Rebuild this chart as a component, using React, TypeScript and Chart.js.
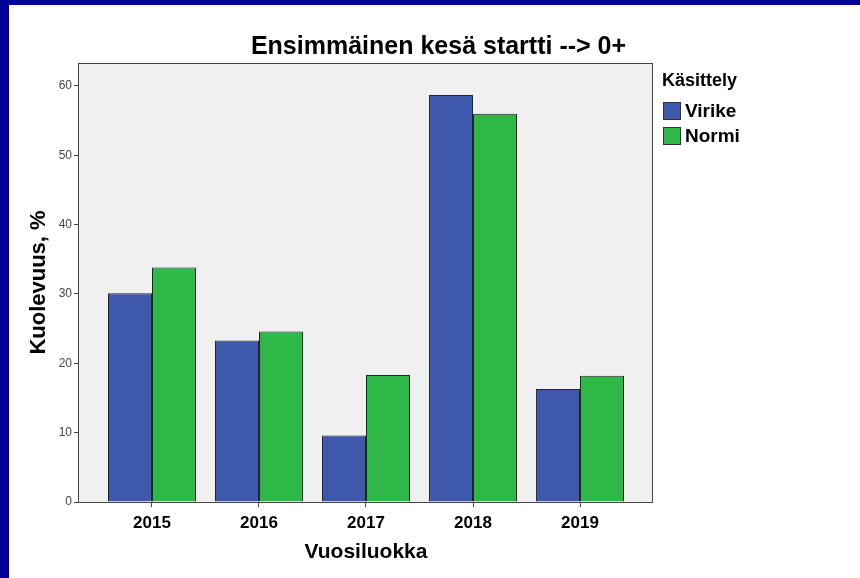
import React, { useEffect, useRef } from "react";
import { Chart, registerables } from "chart.js";

Chart.register(...registerables);

const categories = ["2015", "2016", "2017", "2018", "2019"];
const virike = [30.1, 23.3, 9.6, 58.7, 16.3];
const normi = [33.8, 24.6, 18.3, 56.0, 18.2];
const yTicks = [0, 10, 20, 30, 40, 50, 60];
const seriesNames = ["Virike", "Normi"];
const seriesColors = ["#3e58ac", "#2eb848"];
const legendTitle = "Käsittely";
const chartTitle = "Ensimmäinen kesä startti --> 0+";
const xTitle = "Vuosiluokka";
const yTitle = "Kuolevuus, %";

const FONT = "'Liberation Sans', Arial, sans-serif";

const framePlugin = {
  id: "frame",
  beforeDraw(chart: any) {
    const { ctx, chartArea } = chart;
    const { left, top, right, bottom } = chartArea;
    ctx.save();
    ctx.fillStyle = "#f0f0f0";
    ctx.fillRect(left, top, right - left, bottom - top);
    ctx.restore();
  },
  afterDatasetsDraw(chart: any) {
    const { ctx, chartArea } = chart;
    const { left, top, right, bottom } = chartArea;
    ctx.save();
    ctx.strokeStyle = "#444444";
    ctx.lineWidth = 1;
    ctx.strokeRect(Math.round(left) - 0.5, Math.round(top) + 0.5, Math.round(right - left), Math.round(bottom - top));
    ctx.restore();
  },
};

const titlePlugin = {
  id: "centeredTitle",
  afterDraw(chart: any) {
    const { ctx, width } = chart;
    ctx.save();
    ctx.fillStyle = "#000";
    ctx.textAlign = "center";
    ctx.textBaseline = "middle";
    ctx.font = `bold 25px ${FONT}`;
    ctx.fillText(chartTitle, width / 2 + 4, 42);
    ctx.restore();
  },
};

const legendPlugin = {
  id: "customLegend",
  afterDraw(chart: any) {
    const { ctx, chartArea } = chart;
    const x0 = chartArea.right + 9;
    ctx.save();
    ctx.fillStyle = "#000";
    ctx.textAlign = "left";
    ctx.textBaseline = "middle";
    ctx.font = `bold 18px ${FONT}`;
    ctx.fillText(legendTitle, x0, chartArea.top + 18);
    chart.data.datasets.forEach((ds: any, i: number) => {
      const cy = chartArea.top + 48 + i * 25;
      ctx.fillStyle = ds.backgroundColor;
      ctx.fillRect(x0 + 1, cy - 9, 18, 18);
      ctx.strokeStyle = "#333";
      ctx.lineWidth = 1;
      ctx.strokeRect(x0 + 1.5, cy - 8.5, 17, 17);
      ctx.fillStyle = "#000";
      ctx.font = `bold 19px ${FONT}`;
      ctx.fillText(ds.label, x0 + 23, cy + 1);
    });
    ctx.restore();
  },
};

export default function App() {
  const ref = useRef<HTMLCanvasElement | null>(null);

  useEffect(() => {
    if (!ref.current) return;
    const chart = new Chart(ref.current, {
      type: "bar",
      data: {
        datasets: [
          {
            label: seriesNames[0],
            data: virike.map((v, i) => ({ x: i, y: v })),
            backgroundColor: seriesColors[0],
            borderColor: "#222",
            borderWidth: 1,
            categoryPercentage: 0.822,
            barPercentage: 1,
          },
          {
            label: seriesNames[1],
            data: normi.map((v, i) => ({ x: i, y: v })),
            backgroundColor: seriesColors[1],
            borderColor: "#222",
            borderWidth: 1,
            categoryPercentage: 0.822,
            barPercentage: 1,
          },
        ],
      },
      options: {
        animation: false,
        responsive: false,
        devicePixelRatio: 1,
        layout: { padding: { left: 0, right: 207, top: 58, bottom: 0 } },
        plugins: {
          legend: { display: false },
          tooltip: { enabled: false },
          title: { display: false },
        },
        scales: {
          x: {
            type: "linear",
            min: -0.682,
            max: 4.682,
            offset: false,
            afterBuildTicks: (s: any) => {
              s.ticks = categories.map((_, i) => ({ value: i }));
            },
            afterFit: (s: any) => {
              s.height = 76;
            },
            ticks: {
              callback: (v: any) => categories[v] ?? "",
              color: "#000",
              font: { family: FONT, size: 17, weight: "bold" },
              padding: 6,
              autoSkip: false,
              maxRotation: 0,
            },
            grid: { offset: false, drawOnChartArea: false, drawTicks: true, tickLength: 5, color: "#444" },
            border: { display: false },
            title: {
              display: true,
              text: xTitle,
              color: "#000",
              font: { family: FONT, size: 21, weight: "bold", lineHeight: 1.2 },
              padding: { top: 0, bottom: 13 },
            },
          },
          y: {
            min: 0,
            max: 63.3,
            afterBuildTicks: (s: any) => {
              s.ticks = yTicks.map((v) => ({ value: v }));
            },
            afterFit: (s: any) => {
              s.width = 70;
            },
            ticks: {
              color: "#444",
              font: { family: FONT, size: 12 },
              padding: 2,
            },
            grid: { drawOnChartArea: false, drawTicks: true, tickLength: 5, color: "#444" },
            border: { display: false },
            title: {
              display: true,
              text: yTitle,
              color: "#000",
              font: { family: FONT, size: 22, weight: "bold", lineHeight: 1.2 },
              padding: { top: 17, bottom: 0 },
            },
          },
        },
      },
      plugins: [framePlugin, titlePlugin, legendPlugin],
    } as any);
    return () => chart.destroy();
  }, []);

  return (
    <div style={{ position: "fixed", left: 0, top: 0, width: 860, height: 578, background: "#000099", overflow: "hidden" }}>
      <div style={{ position: "absolute", left: 9, top: 5, width: 851, height: 573, background: "#fff" }}>
        <canvas ref={ref} width={851} height={573} style={{ display: "block", width: 851, height: 573 }} />
      </div>
    </div>
  );
}
